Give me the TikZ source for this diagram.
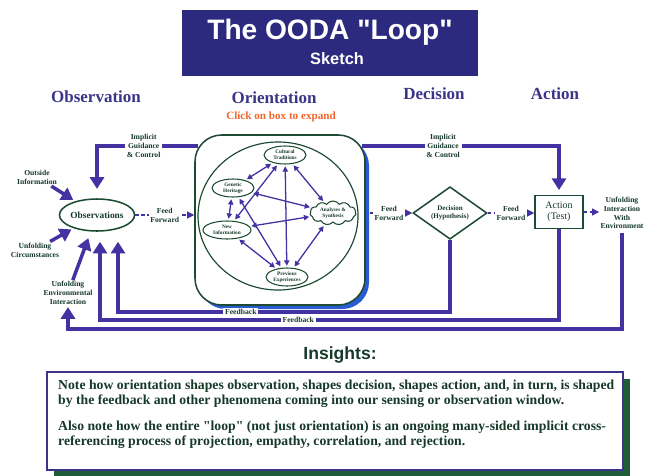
\documentclass[tikz,border=0pt]{standalone}
\usepackage{fontspec}
\setmainfont{Liberation Serif}
\setsansfont{Liberation Sans}
\usetikzlibrary{arrows.meta,shapes.geometric,shapes.symbols,shadows}

\definecolor{bannerblue}{HTML}{2B2A7E}
\definecolor{loopviolet}{HTML}{4232A2}
\definecolor{headviolet}{HTML}{3B3488}
\definecolor{shapegreen}{HTML}{1D4A32}
\definecolor{labelgreen}{HTML}{16392A}
\definecolor{shadowblue}{HTML}{2A5BD0}
\definecolor{insightgreen}{HTML}{1E5C3A}
\definecolor{clickorange}{HTML}{F2662B}

% straight double quote, kept out of the TeX ligature mapping
\newcommand{\straightquote}{\XeTeXglyph\XeTeXcharglyph"22\relax}

\tikzset{
  flow/.style={draw=loopviolet, line width=3pt, -{Triangle[length=10pt,width=12pt]}},
  feedfwd/.style={draw=loopviolet, densely dashed, line width=0.9pt, -{Triangle[length=6pt,width=6pt]}},
  inner/.style={draw=loopviolet, line width=1.1pt, {Triangle[length=4.5pt,width=4.5pt]}-{Triangle[length=4.5pt,width=4.5pt]}, shorten <=1.5pt, shorten >=1.5pt},
  lbl/.style={font=\fontsize{6.5}{7.5}\selectfont\bfseries, text=labelgreen, align=center, inner sep=1pt},
  gaplbl/.style={lbl, fill=white, inner sep=1.5pt},
  header/.style={font=\fontsize{14.5}{16}\selectfont\bfseries, text=headviolet},
  bigshape/.style={draw=shapegreen, line width=1.3pt, fill=white, inner sep=0pt, align=center, text=labelgreen},
  smallell/.style={ellipse, draw=shapegreen, line width=0.9pt, fill=white, inner sep=0pt, align=center,
    minimum width=1.26cm, minimum height=0.54cm, text=labelgreen, font=\fontsize{4.5}{5}\selectfont\bfseries}
}

\begin{document}
\begin{tikzpicture}[x=0.03cm, y=-0.03cm]
  \useasboundingbox (0,0) rectangle (653,475);

  % title banner
  \fill[bannerblue] (182,10) rectangle (478,76);
  \node[font=\sffamily\bfseries\fontsize{24}{26}\selectfont, text=white] (title) at (330,32) {The OODA \straightquote Loop\straightquote};
  \node[font=\sffamily\bfseries\fontsize{14}{16}\selectfont, text=white] (subtitle) at (337,59) {Sketch};

  % column headers
  \node[header] (hobs) at (96,97) {Observation};
  \node[header] (hori) at (274,98) {Orientation};
  \node[header] (hdec) at (434,94) {Decision};
  \node[header] (hact) at (555,94) {Action};
  \node[font=\fontsize{9.5}{11}\selectfont\bfseries, text=clickorange] (click) at (281,117) {Click on box to expand};

  % main shapes
  \node[bigshape, ellipse, minimum width=1.86cm, minimum height=0.96cm, font=\fontsize{8}{9}\selectfont\bfseries] (obs) at (97,215) {Observations};
  \node[bigshape, rectangle, rounded corners=0.8cm, minimum width=5.1cm, minimum height=5.1cm,
    drop shadow={shadow xshift=0.12cm, shadow yshift=-0.12cm, fill=shadowblue, opacity=1}] (orient) at (280,220) {};
  \node[draw=shapegreen, line width=1pt, ellipse, minimum width=4.8cm, minimum height=4.44cm] (orientring) at (278,216) {};
  \node[bigshape, diamond, minimum width=2.22cm, minimum height=1.35cm, font=\fontsize{6}{7}\selectfont\bfseries] (dec) at (450,213) {Decision\\(Hypothesis)};
  \node[bigshape, rectangle, minimum width=1.44cm, minimum height=0.99cm, font=\fontsize{8.5}{9.5}\selectfont] (act) at (559,212) {Action\\(Test)};

  % inside orientation
  \node[smallell] (cult) at (285,155) {Cultural\\Traditions};
  \node[smallell] (gene) at (233,188) {Genetic\\Heritage};
  \node[smallell, minimum width=1.44cm] (newinfo) at (227,230) {New\\Information};
  \node[smallell] (prev) at (287,277) {Previous\\Experiences};
  \node[smallell, cloud, cloud puffs=11, cloud puff arc=110, aspect=2, minimum width=1.38cm, minimum height=0.72cm] (anal) at (333,213) {Analyses \&\\Synthesis};

  \draw[inner] (gene) -- (cult);
  \draw[inner] (gene) -- (newinfo);
  \draw[inner] (gene) -- (prev);
  \draw[inner] (gene) -- (anal);
  \draw[inner] (newinfo) -- (cult);
  \draw[inner] (newinfo) -- (prev);
  \draw[inner] (newinfo) -- (anal);
  \draw[inner] (cult) -- (prev);
  \draw[inner] (cult) -- (anal);
  \draw[inner] (anal) -- (prev);

  % outside labels
  \node[lbl] (outside) at (37,177) {Outside\\Information};
  \node[lbl] (circum) at (35,250) {Unfolding\\Circumstances};
  \node[lbl] (envint) at (68,293) {Unfolding\\Environmental\\Interaction};
  \node[lbl] (unfold) at (622,213) {Unfolding\\Interaction\\With\\Environment};

  \draw[flow, shorten <=1pt, shorten >=2pt] (outside) -- (obs);
  \draw[flow, shorten >=2pt] (circum) -- (obs);
  \draw[flow, shorten >=6pt] (envint) -- (obs);

  % feed forward
  \draw[feedfwd] (obs.east) -- node[gaplbl]{Feed\\Forward} (obs.east -| orient.west);
  \draw[feedfwd, shorten <=4pt] (orient.east |- dec.west) -- node[gaplbl]{Feed\\Forward} (dec.west);
  \draw[feedfwd] (dec.east) -- node[gaplbl]{Feed\\Forward} (dec.east -| act.west);
  \draw[feedfwd] (act.east) -- (act.east -| unfold.west);

  % implicit guidance and control
  \draw[flow, shorten <=-3pt, shorten >=8pt] (orient.west |- 0,146) -| node[gaplbl, pos=0.26]{Implicit\\Guidance\\\& Control} (obs.north);
  \draw[flow, shorten <=-3pt, shorten >=4pt] (orient.east |- 0,146) -| node[gaplbl, pos=0.2]{Implicit\\Guidance\\\& Control} (act.north);

  % feedback
  \draw[flow, shorten >=10pt] (dec.south) |- node[gaplbl, pos=0.815]{Feedback} (118,312) -- (118,230);
  \draw[flow, shorten >=10pt] (act.south) |- node[gaplbl, pos=0.784]{Feedback} (100,320) -- (100,230);
  \draw[flow, shorten <=2pt, shorten >=1pt] (unfold.south) |- (envint.south |- 0,329) -- (envint.south);

  % insights
  \node[font=\sffamily\bfseries\fontsize{15}{17}\selectfont, text=labelgreen] (insighthead) at (340,355) {Insights:};
  \node[draw=headviolet, line width=0.9pt, fill=white, minimum width=17.28cm, minimum height=2.94cm,
    drop shadow={shadow xshift=0.2cm, shadow yshift=-0.2cm, fill=insightgreen, opacity=1}] (insights) at (335,421) {};
  \node[anchor=west, align=left, inner sep=0pt, text=labelgreen, font=\fontsize{11.7}{12.8}\selectfont\bfseries] (insighttext) at (58,414)
    {Note how orientation shapes observation, shapes decision, shapes action, and, in turn, is shaped\\
     by the feedback and other phenomena coming into our sensing or observation window.\\[9pt]
     Also note how the entire \straightquote loop\straightquote{} (not just orientation) is an ongoing many-sided implicit cross-\\
     referencing process of projection, empathy, correlation, and rejection.};
\end{tikzpicture}
\end{document}
